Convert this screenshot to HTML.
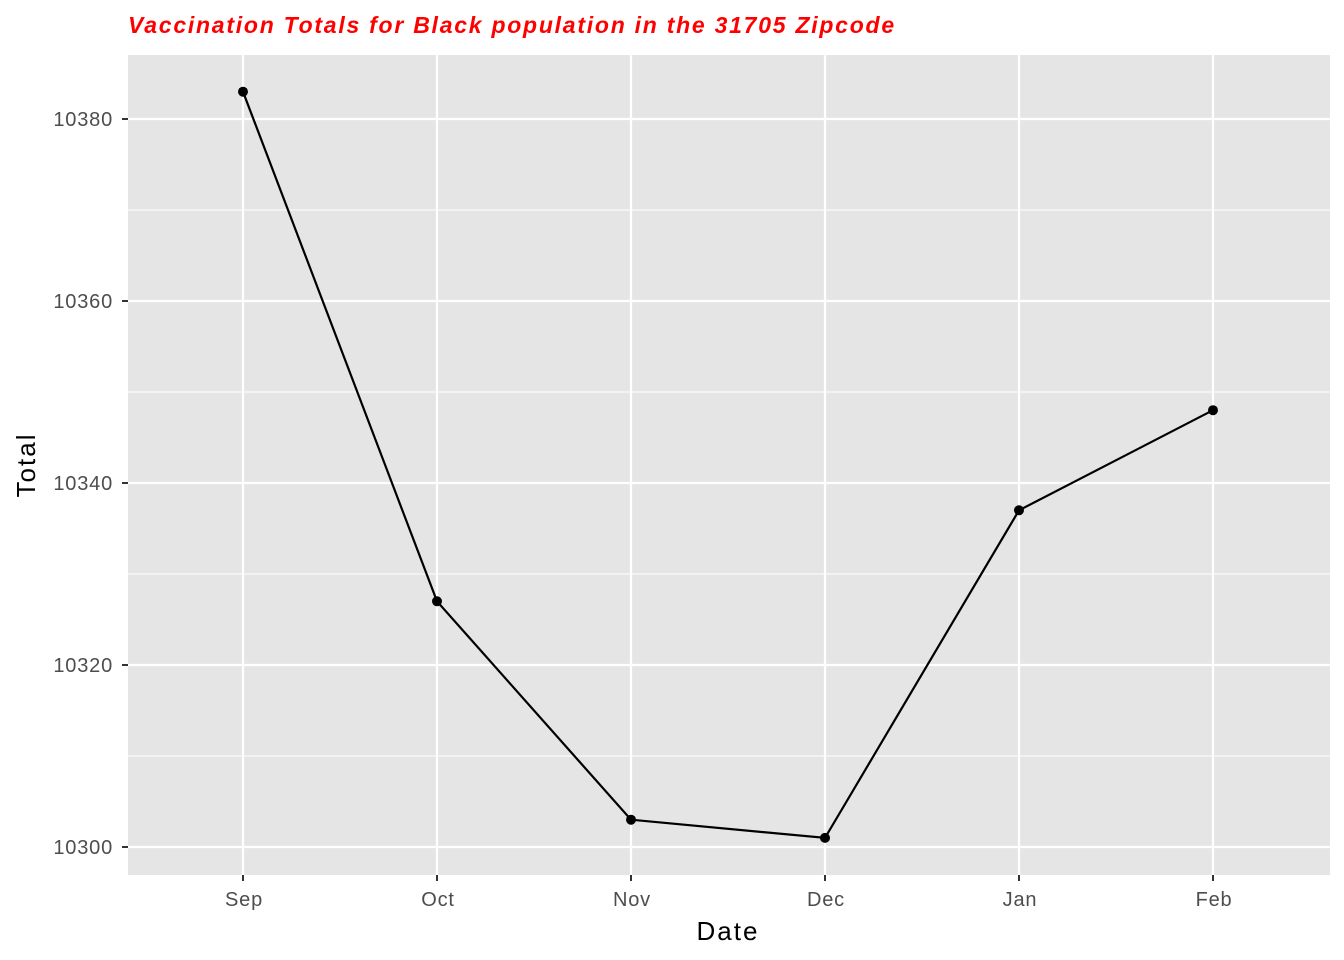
<!DOCTYPE html>
<html><head><meta charset="utf-8"><style>
body{margin:0;background:#fff;}
svg{display:block;font-family:"Liberation Sans",Arial,sans-serif;}
</style></head><body>
<svg id="chart" width="1344" height="960">
<text x="128" y="33" font-size="23" letter-spacing="1.75" font-weight="bold" font-style="italic" fill="#ff0000">Vaccination Totals for Black population in the 31705 Zipcode</text>
<rect x="128" y="55" width="1202" height="820" fill="#e5e5e5"/>
<g id="grid"></g>
<g id="series"></g>
<g id="axes"></g>
<text x="728" y="940" font-size="26" letter-spacing="2" text-anchor="middle" fill="#000">Date</text>
<text transform="translate(35,465) rotate(-90)" font-size="26" letter-spacing="2" text-anchor="middle" fill="#000">Total</text>
</svg>
<script>
const categories = ["Sep","Oct","Nov","Dec","Jan","Feb"];
const totals = [10383,10327,10303,10301,10337,10348];
const yTicks = [10300,10320,10340,10360,10380];
const yMinor = [10310,10330,10350,10370];
const NS="http://www.w3.org/2000/svg";
const x0=243, dx=194;
function xScale(i){return x0+i*dx;}
function yScale(v){return 847-(v-10300)*9.1;}
function mk(tag,attrs,parent){const e=document.createElementNS(NS,tag);for(const k in attrs)e.setAttribute(k,attrs[k]);parent.appendChild(e);return e;}
const grid=document.getElementById('grid'),series=document.getElementById('series'),axes=document.getElementById('axes');
yMinor.forEach(v=>{const l=mk('line',{x1:128,x2:1330,y1:yScale(v),y2:yScale(v),stroke:'#fff','stroke-width':1.1},grid);

});
yTicks.forEach(v=>{const y=yScale(v);
const l=mk('line',{x1:128,x2:1330,y1:y,y2:y,stroke:'#fff','stroke-width':2.2},grid);


const t=mk('line',{x1:122,x2:128,y1:y,y2:y,stroke:'#333','stroke-width':2},axes);


const tx=mk('text',{x:113,y:y+7,'font-size':20,'letter-spacing':0.8,'text-anchor':'end',fill:'#4d4d4d'},axes);tx.textContent=v;

});
categories.forEach((c,i)=>{const x=xScale(i);
const l=mk('line',{x1:x,x2:x,y1:55,y2:875,stroke:'#fff','stroke-width':2.2},grid);


const t=mk('line',{x1:x,x2:x,y1:875,y2:881,stroke:'#333','stroke-width':2},axes);


const tx=mk('text',{x:x+1,y:906,'font-size':20,'letter-spacing':0.8,'text-anchor':'middle',fill:'#4d4d4d'},axes);tx.textContent=c;

});
const pts=totals.map((v,i)=>xScale(i)+','+yScale(v)).join(' ');
const pl=mk('polyline',{points:pts,fill:'none',stroke:'#000','stroke-width':2.2},series);


totals.forEach((v,i)=>{const c=mk('circle',{cx:xScale(i),cy:yScale(v),r:5,fill:'#000'},series);

});
</script>
</body></html>
